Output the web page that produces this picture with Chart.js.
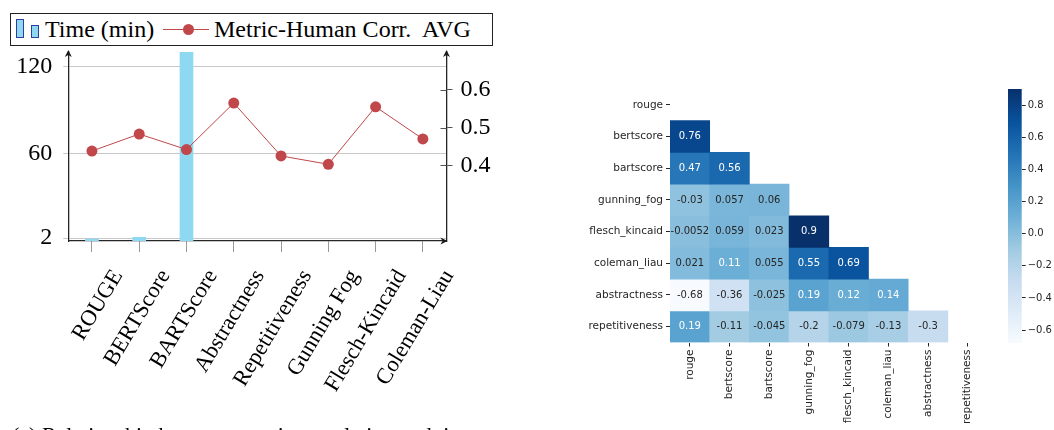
<!DOCTYPE html>
<html>
<head>
<meta charset="utf-8">
<script src="https://cdn.jsdelivr.net/npm/chart.js@4.4.1/dist/chart.umd.min.js"></script>
<style>
  body { margin: 0; width: 1054px; height: 430px; overflow: hidden; position: relative; background: #fff; }
  .box { position: absolute; }
  #legend { left: 10px; top: 13px; width: 481px; height: 31px; border: 1px solid #222; font-family: 'Liberation Serif', serif; font-size: 24px; line-height: 24px; color: #000; }
  #legend span { position: absolute; white-space: pre; }
  .sw { position: absolute; background: #8fd8f2; border: 1px solid #2f3f9f; box-sizing: border-box; }
  #caption { left: 12px; top: 424px; font-family: 'Liberation Serif', serif; font-size: 22px; line-height: 22px; white-space: pre; }
</style>
</head>
<body>
<div id="legend" class="box">
  <div class="sw" style="left:5px;top:5px;width:8px;height:19px"></div>
  <div class="sw" style="left:20px;top:11px;width:8px;height:13px"></div>
  <span style="left:34px;top:3px">Time (min)</span>
  <div style="position:absolute;left:152px;top:15px;width:46px;height:1px;background:#c0474a"></div>
  <div style="position:absolute;left:172px;top:10px;width:11px;height:11px;border-radius:50%;background:#c0474a"></div>
  <span style="left:203px;top:3px">Metric-Human Corr.  AVG</span>
</div>
<div class="box" style="left:0;top:45px;width:500px;height:385px"><canvas id="combo"></canvas></div>
<div class="box" style="left:570px;top:80px;width:420px;height:350px"><canvas id="heat"></canvas></div>
<div class="box" style="left:1000px;top:80px;width:54px;height:350px"><canvas id="cbar"></canvas></div>
<div id="caption" class="box">(a) Relationship between metric correlation and time</div>

<script>
// left panel
const methods = ['ROUGE', 'BERTScore', 'BARTScore', 'Abstractness', 'Repetitiveness', 'Gunning Fog', 'Flesch-Kincaid', 'Coleman-Liau'];
const timeMin = [1.5, 2.7, 170, 0, 0, 0, 0, 0];
const corrAvg = [0.438, 0.483, 0.442, 0.565, 0.425, 0.403, 0.555, 0.470];
const timeTicks = [2, 60, 120];
const corrTicks = [0.4, 0.5, 0.6];

// right panel
const metrics = ['rouge', 'bertscore', 'bartscore', 'gunning_fog', 'flesch_kincaid', 'coleman_liau', 'abstractness', 'repetitiveness'];
const corrRows = [
  [],
  [0.76],
  [0.47, 0.56],
  [-0.03, 0.057, 0.06],
  [-0.0052, 0.059, 0.023, 0.9],
  [0.021, 0.11, 0.055, 0.55, 0.69],
  [-0.68, -0.36, -0.025, 0.19, 0.12, 0.14],
  [0.19, -0.11, -0.045, -0.2, -0.079, -0.13, -0.3]
];
const cbarTicks = [-0.6, -0.4, -0.2, 0.0, 0.2, 0.4, 0.6, 0.8];
const vmin = -0.68, vmax = 0.9;

const BLUES = ['#f7fbff', '#deebf7', '#c6dbef', '#9ecae1', '#6baed6', '#4292c6', '#2171b5', '#08519c', '#08306b'];
const hex = h => [1, 3, 5].map(i => parseInt(h.substr(i, 2), 16));

function bluesRgb(v) {
  let t = Math.min(1, Math.max(0, (v - vmin) / (vmax - vmin))) * (BLUES.length - 1);
  let i = Math.min(BLUES.length - 2, Math.floor(t));
  let f = t - i;
  let a = hex(BLUES[i]), b = hex(BLUES[i + 1]);
  return a.map((c, k) => Math.round(c + (b[k] - c) * f));
}
const blues = v => 'rgb(' + bluesRgb(v).join(',') + ')';

function luminance(rgb) {
  const lin = rgb.map(c => { c /= 255; return c <= 0.03928 ? c / 12.92 : Math.pow((c + 0.055) / 1.055, 2.4); });
  return 0.2126 * lin[0] + 0.7152 * lin[1] + 0.0722 * lin[2];
}

// no extra room for end tick labels, the plot box is fixed
function noPad(s) { s.paddingTop = 0; s.paddingBottom = 0; s.paddingLeft = 0; s.paddingRight = 0; }

const axisArrows = {
  id: 'axisArrows',
  afterDraw(chart) {
    const { ctx, chartArea: a } = chart;
    ctx.save();
    ctx.fillStyle = '#1a1a1a';
    const up = (x, y) => {
      ctx.beginPath();
      ctx.moveTo(x, y); ctx.lineTo(x - 3.5, y + 7); ctx.lineTo(x, y + 5); ctx.lineTo(x + 3.5, y + 7);
      ctx.closePath(); ctx.fill();
    };
    const right = (x, y) => {
      ctx.beginPath();
      ctx.moveTo(x, y); ctx.lineTo(x - 7, y - 3.5); ctx.lineTo(x - 5, y); ctx.lineTo(x - 7, y + 3.5);
      ctx.closePath(); ctx.fill();
    };
    up(a.left, a.top - 2);
    up(a.right, a.top - 2);
    right(a.right + 1, a.bottom);
    // inner part of right axis ticks
    const s = chart.scales.y1;
    ctx.strokeStyle = '#555';
    ctx.lineWidth = 1;
    corrTicks.forEach(v => {
      const y = Math.round(s.getPixelForValue(v)) + 0.5;
      ctx.beginPath(); ctx.moveTo(a.right - 6, y); ctx.lineTo(a.right, y); ctx.stroke();
    });
    ctx.restore();
  }
};

const serif = { family: 'Liberation Serif', size: 24 };

new Chart(document.getElementById('combo'), {
  data: {
    labels: methods,
    datasets: [
      {
        type: 'line', label: 'Metric-Human Corr. AVG', data: corrAvg, yAxisID: 'y1',
        borderColor: '#c0474a', backgroundColor: '#c0474a', borderWidth: 1,
        pointRadius: 5.5, pointBorderWidth: 0, pointBackgroundColor: '#c0474a', order: 0
      },
      {
        type: 'bar', label: 'Time (min)', data: timeMin, yAxisID: 'y',
        backgroundColor: '#8fd8f2', barPercentage: 0.29, categoryPercentage: 1, order: 1
      }
    ]
  },
  options: {
    responsive: true,
    maintainAspectRatio: false,
    animation: false,
    layout: { padding: { top: 7, left: 0, right: 0, bottom: 0 } },
    plugins: { legend: { display: false }, tooltip: { enabled: false } },
    scales: {
      x: {
        grid: { drawOnChartArea: false, offset: false, tickLength: 11, color: '#999' },
        border: { color: '#262626', width: 1.3 },
        ticks: {
          font: { family: 'Liberation Serif', size: 22.5 }, color: '#000',
          minRotation: 59, maxRotation: 59, labelOffset: 26, padding: 13, autoSkip: false
        },
        afterFit(s) { s.height = 189; noPad(s); }
      },
      y: {
        position: 'left', min: 0, max: 130,
        afterBuildTicks(s) { s.ticks = timeTicks.map(v => ({ value: v })); },
        grid: { color: '#c8c8c8', tickLength: 5 },
        border: { color: '#262626', width: 1.3 },
        ticks: { font: serif, color: '#000', padding: 11 },
        afterFit(s) { s.width = 68.3; noPad(s); }
      },
      y1: {
        position: 'right', min: 0.2, max: 0.7,
        afterBuildTicks(s) { s.ticks = corrTicks.map(v => ({ value: v })); },
        grid: { drawOnChartArea: false, tickLength: 6, color: '#555' },
        border: { color: '#262626', width: 1.3 },
        ticks: { font: serif, color: '#000', padding: 8, callback: v => v.toFixed(1) },
        afterFit(s) { s.width = 53.5; noPad(s); }
      }
    }
  },
  plugins: [axisArrows]
});

// heatmap: one floating bar dataset per row
const cellText = {
  id: 'cellText',
  afterDatasetsDraw(chart) {
    const ctx = chart.ctx;
    ctx.save();
    ctx.font = '10px "DejaVu Sans"';
    ctx.textAlign = 'center';
    ctx.textBaseline = 'middle';
    chart.data.datasets.forEach((ds, r) => {
      chart.getDatasetMeta(r).data.forEach((el, c) => {
        if (ds.data[c] == null) return;
        const v = corrRows[r][c];
        ctx.fillStyle = luminance(bluesRgb(v)) > 0.408 ? '#262626' : '#ffffff';
        ctx.fillText(String(v), el.x, (el.y + el.base) / 2);
      });
    });
    ctx.restore();
  }
};

const sans = { family: 'DejaVu Sans', size: 10.5 };

new Chart(document.getElementById('heat'), {
  type: 'bar',
  data: {
    labels: metrics,
    datasets: corrRows.map((row, r) => ({
      data: metrics.map((m, c) => (c < r ? [r, r + 1] : null)),
      backgroundColor: metrics.map((m, c) => (c < r ? blues(row[c]) : 'rgba(0,0,0,0)')),
      barPercentage: 1, categoryPercentage: 1, grouped: false, borderWidth: 0, borderSkipped: false
    }))
  },
  options: {
    responsive: true,
    maintainAspectRatio: false,
    animation: false,
    layout: { padding: { top: 9, right: 2.4, left: 0, bottom: 0 } },
    plugins: { legend: { display: false }, tooltip: { enabled: false } },
    scales: {
      x: {
        grid: { drawOnChartArea: false, offset: false, tickLength: 4, color: '#262626' },
        border: { display: false },
        ticks: { font: sans, color: '#262626', minRotation: 90, maxRotation: 90, padding: 3, autoSkip: false },
        afterFit(s) { s.height = 87.5; noPad(s); }
      },
      y: {
        min: 0, max: 8, reverse: true,
        afterBuildTicks(s) { s.ticks = metrics.map((m, i) => ({ value: i + 0.5 })); },
        grid: { drawOnChartArea: false, tickLength: 4, color: '#262626' },
        border: { display: false },
        ticks: { font: sans, color: '#262626', padding: 3, autoSkip: false, callback: (v, i) => metrics[i] },
        afterFit(s) { s.width = 100; noPad(s); }
      }
    }
  },
  plugins: [cellText]
});

// colour bar
new Chart(document.getElementById('cbar'), {
  type: 'bar',
  data: {
    labels: [''],
    datasets: [{
      data: [[vmin, vmax]],
      backgroundColor(c) {
        const a = c.chart.chartArea;
        if (!a) return BLUES[4];
        const g = c.chart.ctx.createLinearGradient(0, a.bottom, 0, a.top);
        BLUES.forEach((col, i) => g.addColorStop(i / (BLUES.length - 1), col));
        return g;
      },
      barPercentage: 1, categoryPercentage: 1, borderWidth: 0, borderSkipped: false
    }]
  },
  options: {
    responsive: true,
    maintainAspectRatio: false,
    animation: false,
    layout: { padding: { top: 9, left: 8, right: 0, bottom: 87 } },
    plugins: { legend: { display: false }, tooltip: { enabled: false } },
    scales: {
      x: { display: false },
      y: {
        position: 'right', min: vmin, max: vmax,
        afterBuildTicks(s) { s.ticks = cbarTicks.map(v => ({ value: v })); },
        grid: { drawOnChartArea: false, tickLength: 4, color: '#262626' },
        border: { display: false },
        ticks: {
          font: { family: 'DejaVu Sans', size: 10 }, color: '#262626', padding: 2,
          callback: v => (v < -1e-9 ? '\u2212' : '') + Math.abs(v).toFixed(1)
        },
        afterFit(s) { s.width = 32.3; noPad(s); }
      }
    }
  }
});
</script>
</body>
</html>
